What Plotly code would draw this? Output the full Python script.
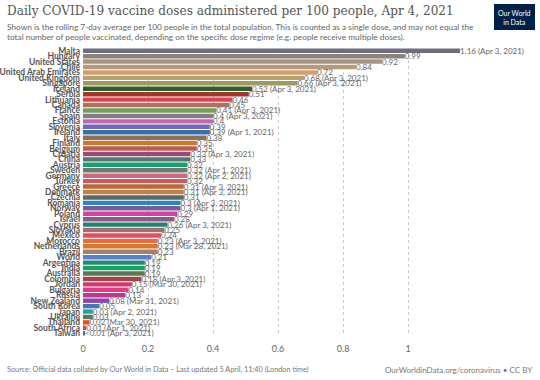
import plotly.graph_objects as go

countries = ["Malta", "Hungary", "United States", "Chile", "United Arab Emirates", "United Kingdom",
             "Singapore", "Iceland", "Serbia", "Lithuania", "Canada", "France", "Spain", "Estonia",
             "Slovenia", "Ireland", "Italy", "Finland", "Belgium", "Croatia", "China", "Austria",
             "Sweden", "Germany", "Turkey", "Greece", "Denmark", "Czechia", "Romania", "Norway",
             "Poland", "Israel", "Cyprus", "Slovakia", "Mexico", "Morocco", "Netherlands", "Brazil",
             "World", "Argentina", "India", "Australia", "Colombia", "Jordan", "Bulgaria", "Russia",
             "New Zealand", "South Korea", "Japan", "Ukraine", "Thailand", "South Africa", "Taiwan"]
values = [1.16, 0.99, 0.92, 0.84, 0.72, 0.68, 0.66, 0.52, 0.51, 0.46, 0.45, 0.41, 0.40, 0.40,
          0.39, 0.39, 0.38, 0.35, 0.35, 0.33, 0.33, 0.32, 0.32, 0.32, 0.32, 0.31, 0.31, 0.31,
          0.30, 0.30, 0.29, 0.28, 0.26, 0.25, 0.24, 0.23, 0.23, 0.23, 0.21, 0.19, 0.19, 0.19,
          0.18, 0.15, 0.14, 0.13, 0.08, 0.05, 0.03, 0.03, 0.02, 0.01, 0.005]
value_labels = ["1.16", "0.99", "0.92", "0.84", "0.72", "0.68", "0.66", "0.52", "0.51", "0.46",
                "0.45", "0.41", "0.4", "0.4", "0.39", "0.39", "0.38", "0.35", "0.35", "0.33",
                "0.33", "0.32", "0.32", "0.32", "0.32", "0.31", "0.31", "0.31", "0.3", "0.3",
                "0.29", "0.28", "0.26", "0.25", "0.24", "0.23", "0.23", "0.23", "0.21", "0.19",
                "0.19", "0.19", "0.18", "0.15", "0.14", "0.13", "0.08", "0.05", "0.03", "0.03",
                "0.02", "0.01", "<0.01"]
date_notes = ["Apr 3, 2021", "", "", "", "", "Apr 3, 2021", "Apr 3, 2021", "Apr 3, 2021", "", "",
              "", "Apr 3, 2021", "Apr 3, 2021", "", "", "Apr 1, 2021", "", "", "", "Apr 3, 2021",
              "", "", "Apr 1, 2021", "Apr 2, 2021", "", "Apr 3, 2021", "Apr 3, 2021", "",
              "Apr 3, 2021", "Apr 1, 2021", "", "", "Apr 3, 2021", "", "", "Apr 3, 2021",
              "Mar 28, 2021", "", "", "", "", "", "Apr 3, 2021", "Mar 30, 2021", "", "",
              "Mar 31, 2021", "", "Apr 2, 2021", "", "Mar 30, 2021", "Apr 1, 2021", "Apr 3, 2021"]
colors = ["#6e6e7e", "#8c8478", "#a89584", "#b89a7a", "#d0a070", "#b8a070", "#a09a60", "#2e5e2a",
          "#9a3a30", "#e04050", "#b07060", "#70a060", "#8a7a88", "#c068b0", "#7068b8", "#3a70a0",
          "#8a7058", "#c87830", "#b86050", "#9a4a78", "#507a70", "#18a070", "#707870", "#d06880",
          "#c06060", "#b86838", "#c08048", "#5a6868", "#2888b8", "#7a5a9a", "#d840a0", "#8a5a88",
          "#288070", "#a07070", "#e05060", "#e07048", "#d87828", "#a08070", "#5a80c0", "#288878",
          "#18a060", "#5a7858", "#a04848", "#d03870", "#e03a88", "#c03890", "#8848b0", "#4878a8",
          "#28a0a0", "#5a7860", "#e05028", "#b05848", "#4868b0"]
x_ticks = [0, 0.2, 0.4, 0.6, 0.8, 1]
x_tick_labels = ["0", "0.2", "0.4", "0.6", "0.8", "1"]

texts = [v + (f" ({d})" if d else "") for v, d in zip(value_labels, date_notes)]

L, R, T, B = 83, 10, 48, 44
PW, PH = 540 - L - R, 380 - T - B

fig = go.Figure(go.Bar(
    y=countries, x=values, orientation="h",
    marker=dict(color=colors, line=dict(width=0)),
    text=texts, textposition="outside", constraintext="none", cliponaxis=False,
    textfont=dict(family="Lato", size=8, color="#666666"),
    hoverinfo="skip",
))

fig.update_layout(
    width=540, height=380,
    margin=dict(l=L, r=R, t=T, b=B, autoexpand=False),
    paper_bgcolor="white", plot_bgcolor="white",
    bargap=0.18,
    showlegend=False,
    xaxis=dict(range=[0, 1.375], tickmode="array", tickvals=x_ticks, ticktext=x_tick_labels,
               showgrid=True, gridcolor="#cccccc", griddash="dot", gridwidth=1,
               zeroline=False, showline=False, ticks="", automargin=False,
               tickfont=dict(family="Lato", size=9, color="#666666"), ticklabelstandoff=6),
    yaxis=dict(autorange="reversed", tickmode="array", tickvals=countries, ticktext=countries,
               showgrid=False, showline=False, ticks="", automargin=False,
               tickfont=dict(family="Lato", size=8.5, color="#555555", weight=700),
               ticklabelstandoff=2),
    font=dict(family="Lato"),
)


def px_x(x):
    return (x - L) / PW


def px_y(y):
    return (380 - B - y) / PH


fig.add_annotation(xref="paper", yref="paper", x=px_x(5), y=px_y(2), xanchor="left", yanchor="top",
                   text="Daily COVID-19 vaccine doses administered per 100 people, Apr 4, 2021",
                   showarrow=False, font=dict(family="DejaVu Serif", size=12.1, color="#555555"))
fig.add_annotation(xref="paper", yref="paper", x=px_x(5), y=px_y(20), xanchor="left", yanchor="top",
                   text="Shown is the rolling 7-day average per 100 people in the total population. This is counted as a single dose, and may not equal the",
                   showarrow=False, font=dict(family="Lato", size=8.3, color="#666666"))
fig.add_annotation(xref="paper", yref="paper", x=px_x(5), y=px_y(30), xanchor="left", yanchor="top",
                   text="total number of people vaccinated, depending on the specific dose regime (e.g. people receive multiple doses).",
                   showarrow=False, font=dict(family="Lato", size=8.3, color="#666666"))
fig.add_annotation(xref="paper", yref="paper", x=px_x(5), y=px_y(363), xanchor="left", yanchor="top",
                   text="Source: Official data collated by Our World in Data – Last updated 5 April, 11:40 (London time)",
                   showarrow=False, font=dict(family="Lato", size=7.3, color="#777777"))
fig.add_annotation(xref="paper", yref="paper", x=px_x(534), y=px_y(363), xanchor="right", yanchor="top",
                   text="OurWorldinData.org/coronavirus • CC BY",
                   showarrow=False, font=dict(family="Lato", size=8, color="#777777"))

# logo
fig.add_shape(type="rect", xref="paper", yref="paper",
              x0=px_x(494), x1=px_x(535), y0=px_y(30), y1=px_y(4),
              fillcolor="#002147", line=dict(width=0))
fig.add_annotation(xref="paper", yref="paper", x=px_x(514.5), y=px_y(17),
                   text="Our World<br>in Data", showarrow=False, xanchor="center", yanchor="middle",
                   font=dict(family="Lato", size=7, color="white"))

fig.write_html("out.html", config={"displayModeBar": False},
               post_script="document.body.style.margin='0';document.body.style.padding='0';")
